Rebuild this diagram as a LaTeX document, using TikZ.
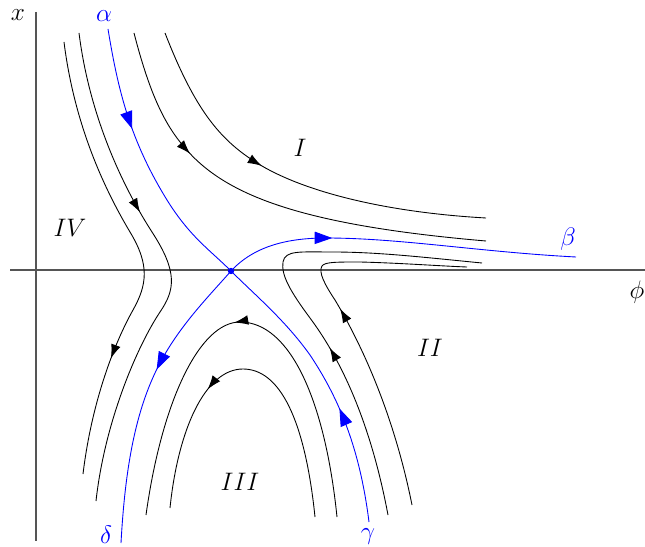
\documentclass[tikz,border=0pt]{standalone}
\usepackage{amsmath}
\usepackage{tikz}
\usetikzlibrary{arrows.meta,decorations.markings}
\definecolor{sepblue}{HTML}{0000FF}
\definecolor{axisgray}{HTML}{555555}

\begin{document}
\begin{tikzpicture}[x=0.02cm,y=-0.02cm,
  every node/.style={inner sep=0pt,outer sep=0pt,font=\Large},
  orbit/.style={black,line width=0.5pt},
  separatrix/.style={sepblue,line width=0.5pt},
  blackflow/.style={postaction={decorate},decoration={markings,mark=at position #1 with {\arrow{Latex[length=8pt,width=5.5pt]}}}},
  blueflow/.style={postaction={decorate},decoration={markings,mark=at position #1 with {\arrow{Triangle[length=10pt,width=7pt]}}}}]
\useasboundingbox (0,0) rectangle (645,547);
% AXES: phi horizontal, x vertical
\draw[axisgray,line width=0.6pt] (10,270) -- (645,270);
\draw[axisgray,line width=0.6pt] (36,12) -- (36,541);
\node (xlab) at (18,15) {$x$};
\node (philab) at (637,292) {$\phi$};
% SADDLE POINT
\coordinate (saddle) at (231,271);
% REGION I: orbits coming down from the top and leaving to the right
\draw[orbit,blackflow=0.42] (165,33) .. controls (195,110) and (220,140) .. (257,163) .. controls (300,190) and (380,212) .. (486,218);
\draw[orbit,blackflow=0.3] (134,33) .. controls (150,95) and (165,125) .. (185,148) .. controls (225,195) and (300,225) .. (486,241);
% REGION IV: orbits crossing the phi axis to the left of the saddle
\draw[orbit,blackflow=0.74] (64,42) .. controls (75,130) and (108,195) .. (130,232) .. controls (150,265) and (147,285) .. (133,310) .. controls (115,342) and (92,400) .. (83,474);
\draw[orbit,blackflow=0.38] (79,33) .. controls (90,120) and (125,190) .. (152,232) .. controls (178,272) and (175,290) .. (160,312) .. controls (138,345) and (105,420) .. (96,501);
% REGION III: arches below the saddle
\draw[orbit,blackflow=0.52] (337,517) .. controls (325,400) and (290,322) .. (240,322) .. controls (200,322) and (162,400) .. (146,515);
\draw[orbit,blackflow=0.635] (315,517) .. controls (305,420) and (280,369) .. (243,369) .. controls (205,369) and (178,430) .. (170,508);
% REGION II: orbits coming up from below and turning back to the right
\draw[orbit,blackflow=0.37] (388,515) .. controls (372,430) and (345,365) .. (310,318) .. controls (290,291) and (281,275) .. (283,262) .. controls (285,250) and (300,252) .. (333,252) .. controls (380,252) and (430,258) .. (482,263);
\draw[orbit,blackflow=0.52] (412,505) .. controls (395,420) and (365,350) .. (335,300) .. controls (325,285) and (318,272) .. (322,266) .. controls (325,262) and (335,262) .. (360,262) .. controls (400,263) and (440,266) .. (467,267);
% SEPARATRICES alpha, beta, gamma, delta
\draw[separatrix,blueflow=0.37] (108,29) .. controls (118,90) and (130,140) .. (167,200) .. controls (190,237) and (210,250) .. (saddle);
\draw[separatrix,blueflow=0.31] (saddle) .. controls (255,245) and (290,238) .. (326,238) .. controls (400,238) and (480,252) .. (576,257);
\draw[separatrix,blueflow=0.4] (369,522) .. controls (360,450) and (340,400) .. (310,355) .. controls (285,320) and (255,295) .. (saddle);
\draw[separatrix,blueflow=0.41] (saddle) .. controls (210,295) and (180,325) .. (160,363) .. controls (135,410) and (125,470) .. (121,543);
\fill[sepblue] (saddle) circle (1.8pt);
% LABELS
\node[text=sepblue] (alphalab) at (104,16) {$\alpha$};
\node[text=sepblue] (betalab) at (568,239) {$\beta$};
\node[text=sepblue] (gammalab) at (368,537) {$\gamma$};
\node[text=sepblue] (deltalab) at (106,535) {$\delta$};
\node (regI) at (300,148) {$I$};
\node (regII) at (430,348) {$II$};
\node (regIII) at (240,482) {$III$};
\node (regIV) at (70,228) {$IV$};
\end{tikzpicture}
\end{document}
